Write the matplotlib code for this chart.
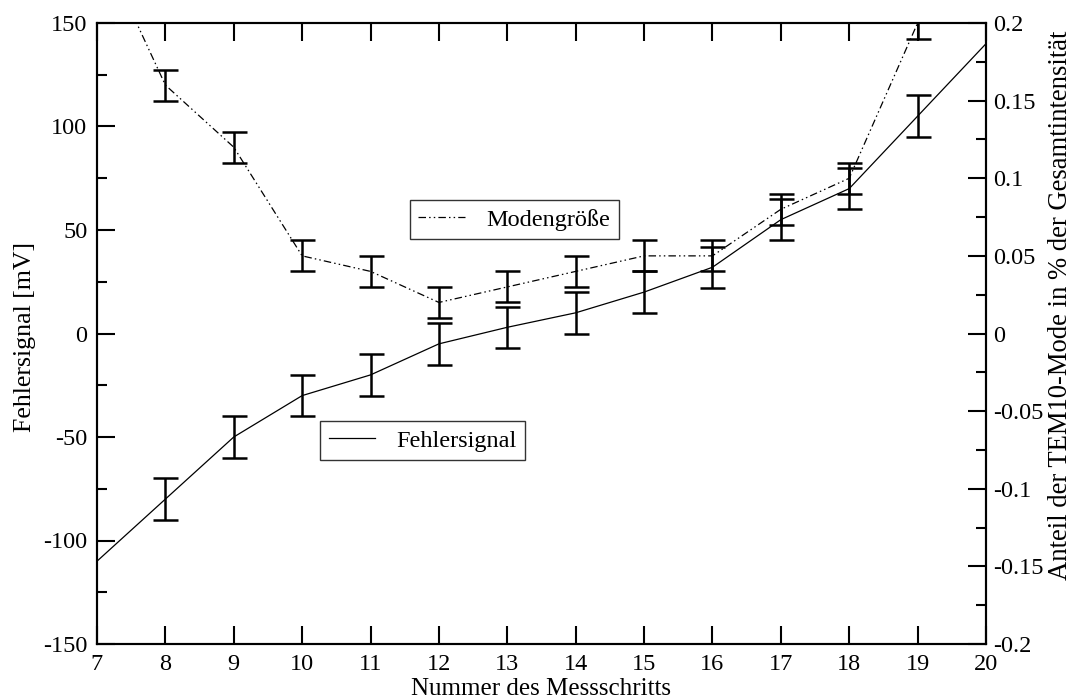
import matplotlib
matplotlib.use("Agg")
import matplotlib.pyplot as plt
from matplotlib.ticker import MultipleLocator, FixedLocator, FixedFormatter

plt.rcParams['font.family'] = ['Liberation Serif', 'DejaVu Serif']
plt.rcParams['axes.unicode_minus'] = False

# data
schritte_f = [7, 8, 9, 10, 11, 12, 13, 14, 15, 16, 17, 18, 19, 20]
fehler = [-110, -80, -50, -30, -20, -5, 3, 10, 20, 32, 55, 70, 105, 140]
fehler_err = [0, 10, 10, 10, 10, 10, 10, 10, 10, 10, 10, 10, 10, 0]

schritte_m = [7, 8, 9, 10, 11, 12, 13, 14, 15, 16, 17, 18, 19]
moden = [0.255, 0.16, 0.12, 0.05, 0.04, 0.02, 0.03, 0.04, 0.05, 0.05, 0.08, 0.10, 0.20]
moden_err = [0, 0.01, 0.01, 0.01, 0.01, 0.01, 0.01, 0.01, 0.01, 0.01, 0.01, 0.01, 0.01]

left_ticks = [-150, -100, -50, 0, 50, 100, 150]
right_ticks = [-0.2, -0.15, -0.1, -0.05, 0, 0.05, 0.1, 0.15, 0.2]
right_labels = ["-0.2", "-0.15", "-0.1", "-0.05", "0", "0.05", "0.1", "0.15", "0.2"]

W, H = 1074, 698
fig = plt.figure(figsize=(W / 100, H / 100), dpi=100)
ax = fig.add_axes([97 / W, 54 / H, 889 / W, 621 / H])
ax2 = ax.twinx()

lw_sp = 1.5
for a in (ax, ax2):
    for s in a.spines.values():
        s.set_linewidth(lw_sp)

# Fehlersignal
ax.plot(schritte_f, fehler, color='black', lw=0.9, label='Fehlersignal', zorder=3)
xs = [x for x, e in zip(schritte_f, fehler_err) if e > 0]
ys = [y for y, e in zip(fehler, fehler_err) if e > 0]
es = [e for e in fehler_err if e > 0]
ax.errorbar(xs, ys, yerr=es, fmt='none', ecolor='black', elinewidth=1.8,
            capsize=9, capthick=1.8, zorder=3)

# Modengroesse
ax2.plot(schritte_m, moden, color='black', lw=0.9,
         linestyle=(0, (6, 2.5, 1.2, 2.5, 1.2, 2.5)), label='Modengröße', zorder=3)
xm = [x for x, e in zip(schritte_m, moden_err) if e > 0]
ym = [y for y, e in zip(moden, moden_err) if e > 0]
em = [e for e in moden_err if e > 0]
ax2.errorbar(xm, ym, yerr=em, fmt='none', ecolor='black', elinewidth=1.8,
             capsize=9, capthick=1.8, zorder=3)

ax.set_xlim(7, 20)
ax.set_ylim(-150, 150)
ax2.set_ylim(-0.2, 0.2)

ax.xaxis.set_major_locator(MultipleLocator(1))
ax.yaxis.set_major_locator(FixedLocator(left_ticks))
ax.yaxis.set_minor_locator(MultipleLocator(25))
ax2.yaxis.set_major_locator(FixedLocator(right_ticks))
ax2.yaxis.set_major_formatter(FixedFormatter(right_labels))
ax2.yaxis.set_minor_locator(MultipleLocator(0.025))

fs = 17.5
ax.tick_params(axis='x', which='major', direction='in', length=13, width=1.5,
               top=True, bottom=True, labelsize=fs, pad=7)
ax.tick_params(axis='y', which='major', direction='in', length=13, width=1.5,
               left=True, right=False, labelsize=fs, pad=7)
ax.tick_params(axis='y', which='minor', direction='in', length=7, width=1.5,
               left=True, right=False)
ax2.tick_params(axis='y', which='major', direction='in', length=13, width=1.5,
                right=True, left=False, labelsize=fs, pad=5)
ax2.tick_params(axis='y', which='minor', direction='in', length=7, width=1.5,
                right=True, left=False)

fig.text(541 / W, 3 / H, 'Nummer des Messschritts', fontsize=18,
         ha='center', va='baseline')
fig.text(25 / W, 1 - 337 / H, 'Fehlersignal [mV]', fontsize=18.6,
         rotation=90, ha='center', va='center')
fig.text(1073 / W, 1 - 305 / H, 'Anteil der TEM10-Mode in % der Gesamtintensität',
         fontsize=19.2, rotation=90, ha='right', va='center')

leg1 = ax2.legend(loc='upper left', bbox_to_anchor=(0.352, 0.715), borderaxespad=0,
                  fancybox=False, edgecolor='#333333', framealpha=1, fontsize=fs,
                  handlelength=1.9, handletextpad=0.9, borderpad=0.35)
leg1.get_frame().set_linewidth(1.0)
leg2 = ax.legend(loc='upper left', bbox_to_anchor=(0.251, 0.359), borderaxespad=0,
                 fancybox=False, edgecolor='#333333', framealpha=1, fontsize=fs,
                 handlelength=1.9, handletextpad=0.9, borderpad=0.35)
leg2.get_frame().set_linewidth(1.0)

fig.savefig('out.png', dpi=100)
